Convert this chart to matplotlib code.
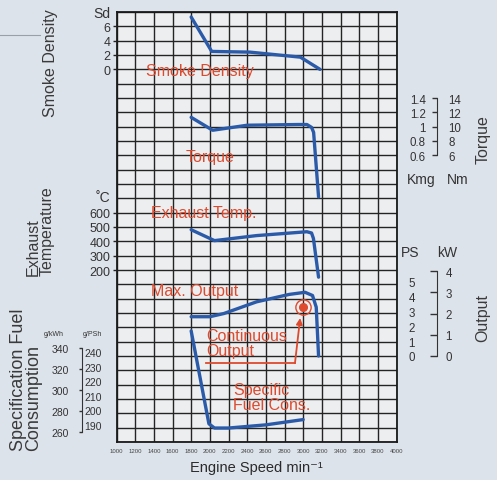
import matplotlib
matplotlib.use("Agg")
import matplotlib.pyplot as plt

plt.rcParams['font.family'] = ['Liberation Sans', 'DejaVu Sans']

# ---------------- data ----------------
rpm_ticks = list(range(1000, 4001, 200))

smoke_rpm = [1800, 2020, 2430, 2970, 3180]
smoke_sd = [7.3, 2.5, 2.4, 1.7, 0.0]

torque_rpm = [1800, 2030, 2400, 2950, 3040, 3090, 3112, 3165]
torque_kgm = [1.13, 0.95, 1.02, 1.03, 1.03, 0.99, 0.92, 0.02]

exh_rpm = [1800, 2050, 2500, 3040, 3090, 3110, 3165]
exh_temp = [481, 405, 440, 467, 458, 420, 150]

out_rpm = [1800, 2000, 2150, 2500, 2850, 3020, 3100, 3140, 3165]
out_kw = [1.85, 1.85, 2.0, 2.55, 2.9, 3.0, 2.85, 2.3, 0.0]

fuel_rpm = [1800, 1990, 2050, 2200, 2600, 3000]
fuel_gkwh = [356, 268, 264, 264, 267, 272]

cont_rpm, cont_kw = 3000, 2.3

smoke_ticks = [0, 2, 4, 6]
exh_ticks = [200, 300, 400, 500, 600]
torque_kgm_ticks = [0.6, 0.8, 1.0, 1.2, 1.4]
torque_kgm_labels = ['0.6', '0.8', '1', '1.2', '1.4']
torque_nm_labels = ['6', '8', '10', '12', '14']
kw_ticks = [0, 1, 2, 3, 4]
ps_ticks = [0, 1, 2, 3, 4, 5]
fuel_kwh_ticks = [260, 280, 300, 320, 340]
fuel_psh_ticks = [190, 200, 210, 220, 230, 240]

# ---------------- layout ----------------
W, H = 497, 481
BG = '#dde3eb'
GRID_BG = '#eceef0'
BLUE = '#2b5ba8'
RED = '#dd4a2e'
DARK = '#333333'
ROWS = 30

fig = plt.figure(figsize=(W / 100, H / 100), dpi=100, facecolor=BG)

def fx(x):
    return x / W

def fy(y):
    return 1 - y / H

GL, GR, GT, GB = 116.5, 396.5, 13.0, 443.0
rect = [fx(GL), fy(GB), (GR - GL) / W, (GB - GT) / H]

main = fig.add_axes(rect)
main.set_facecolor(GRID_BG)
main.set_xlim(1000, 4000)
main.set_ylim(ROWS, 0)
main.set_xticks(rpm_ticks)
main.set_xticklabels([str(t) for t in rpm_ticks])
main.set_yticks(range(ROWS + 1))
main.grid(True, color='#242424', lw=1.0)
main.tick_params(axis='x', length=0, labelsize=4.3, pad=4, colors='#444444')
main.tick_params(axis='y', length=0, labelleft=False)
for s in main.spines.values():
    s.set_color('#1a1a1a')
    s.set_linewidth(1.3)
main.set_axisbelow(True)


def row_ylim(value, row, per_row):
    """y-limits so that `value` falls on grid row `row` (counted from top)."""
    return value - (ROWS - row) * per_row, value + row * per_row


def overlay(ylim):
    a = fig.add_axes(rect, sharex=main)
    a.patch.set_visible(False)
    for s in a.spines.values():
        s.set_visible(False)
    a.set_ylim(*ylim)
    a.xaxis.set_visible(False)
    a.tick_params(axis='y', which='both', left=False, right=False,
                  labelleft=False, labelright=False, colors=DARK)
    return a

SIDE_R = (437.0 - GL) / (GR - GL)
SIDE_L = (82.0 - GL) / (GR - GL)

# Smoke density
ax_s = overlay(row_ylim(0, 4, 2))
ax_s.set_yticks(smoke_ticks)
ax_s.tick_params(axis='y', left=True, labelleft=True, length=3, width=1,
                 pad=1.5, labelsize=9, color='#222222')
ax_s.plot(smoke_rpm, smoke_sd, color=BLUE, lw=2.4, solid_joinstyle='round',
          solid_capstyle='round')

# Exhaust temperature
ax_e = overlay(row_ylim(600, 14, 100))
ax_e.set_yticks(exh_ticks)
ax_e.tick_params(axis='y', left=True, labelleft=True, length=3, width=1,
                 pad=1.5, labelsize=9, color='#222222')
ax_e.plot(exh_rpm, exh_temp, color=BLUE, lw=2.4, solid_joinstyle='round',
          solid_capstyle='round')

# Torque (kgm left of bracket, Nm right of it)
ax_t = overlay(row_ylim(1.4, 6, 0.2))
ax_t.spines['left'].set_visible(True)
ax_t.spines['left'].set_position(('axes', SIDE_R))
ax_t.spines['left'].set_bounds(0.6, 1.4)
ax_t.spines['left'].set_color('#333333')
ax_t.set_yticks(torque_kgm_ticks)
ax_t.set_yticklabels(torque_kgm_labels)
ax_t.tick_params(axis='y', left=True, labelleft=True, direction='out',
                 length=3.5, width=1, pad=4.5, labelsize=8.3, color='#333333')
ax_t.plot(torque_rpm, torque_kgm, color=BLUE, lw=2.4, solid_joinstyle='round',
          solid_capstyle='round')

ax_tn = overlay(row_ylim(1.4, 6, 0.2))
ax_tn.spines['right'].set_position(('axes', SIDE_R))
ax_tn.set_yticks(torque_kgm_ticks)
ax_tn.set_yticklabels(torque_nm_labels)
ax_tn.tick_params(axis='y', labelright=True, length=0, pad=8, labelsize=8.3)

# Output (PS left, kW right)
ax_o = overlay(row_ylim(0, 24, 0.675))
ax_o.spines['right'].set_visible(True)
ax_o.spines['right'].set_position(('axes', SIDE_R))
ax_o.spines['right'].set_bounds(0, 4)
ax_o.spines['right'].set_color('#333333')
ax_o.set_yticks(kw_ticks)
ax_o.tick_params(axis='y', right=True, labelright=True, direction='in',
                 length=5, width=1, pad=6, labelsize=8.3, color='#333333')
ax_o.plot(out_rpm, out_kw, color=BLUE, lw=2.4, solid_joinstyle='round',
          solid_capstyle='round')

ax_p = overlay(row_ylim(0, 24, 0.968))
ax_p.spines['left'].set_position(('axes', SIDE_R))
ax_p.set_yticks(ps_ticks)
ax_p.tick_params(axis='y', labelleft=True, length=0, pad=16, labelsize=8.3)

# Specific fuel consumption (g/kWh left, g/PSh right)
ax_f = overlay(row_ylim(260, 29.32, 13.58))
ax_f.spines['left'].set_visible(True)
ax_f.spines['left'].set_position(('axes', SIDE_L))
ax_f.spines['left'].set_bounds(260, 340)
ax_f.spines['left'].set_color('#333333')
ax_f.set_yticks(fuel_kwh_ticks)
ax_f.tick_params(axis='y', left=True, labelleft=True, direction='out',
                 length=2.5, width=1, pad=7, labelsize=7.5, color='#333333')
ax_f.plot(fuel_rpm, fuel_gkwh, color=BLUE, lw=2.4, solid_joinstyle='round',
          solid_capstyle='round')

ax_fp = overlay(row_ylim(190, 28.81, 9.82))
ax_fp.spines['right'].set_position(('axes', SIDE_L))
ax_fp.set_yticks(fuel_psh_ticks)
ax_fp.tick_params(axis='y', labelright=True, length=0, pad=1.5, labelsize=7.5)

# Continuous output marker + arrow
ax_o.plot([cont_rpm], [cont_kw], marker='o', ms=11, mfc='none', mec=RED,
          mew=1.0, ls='none')
ax_o.plot([cont_rpm], [cont_kw], marker='o', ms=5.5, mfc=RED, mec=RED, ls='none')

# ---------------- red curve labels ----------------
lab = dict(color=RED, fontsize=11.5)
main.text(1895, 4.05, 'Smoke Density', ha='center', va='center', **lab)
main.text(2005, 10.05, 'Torque', ha='center', va='center', **lab)
main.text(1940, 14.0, 'Exhaust Temp.', ha='center', va='center', **lab)
main.text(1841, 19.45, 'Max. Output', ha='center', va='center', **lab)
main.text(1960, 23.1, 'Continuous\nOutput', ha='left', va='center',
          linespacing=0.95, **lab)
main.text(2252, 26.85, 'Specific\nFuel Cons.', ha='left', va='center',
          linespacing=0.95, **lab)
main.plot([1960, 2912], [24.5, 24.5], color=RED, lw=1.3)
main.annotate('', xy=(2968, 21.35), xytext=(2912, 24.5),
              arrowprops=dict(arrowstyle='-|>', color=RED, lw=1.3,
                              mutation_scale=9, shrinkA=0, shrinkB=0))

# ---------------- axis titles & units ----------------
tt = dict(color='#3a3a3a', fontsize=11.5)
fig.text(fx(50), fy(117), 'Smoke Density', rotation=90, ha='center',
         va='bottom', **tt)
fig.text(fx(40), fy(276), 'Exhaust\nTemperature', rotation=90, ha='center',
         va='bottom', multialignment='left', linespacing=0.9, **tt)
fig.text(fx(26), fy(451), 'Specification Fuel\nConsumption', rotation=90,
         ha='center', va='bottom', multialignment='left', linespacing=0.85,
         color='#3a3a3a', fontsize=13)
fig.text(fx(483), fy(140), 'Torque', rotation=90, ha='center', va='center', **tt)
fig.text(fx(483), fy(318), 'Output', rotation=90, ha='center', va='center', **tt)

fig.text(fx(110), fy(14), 'Sd', ha='right', va='center', fontsize=10, color=DARK)
fig.text(fx(110), fy(198), '˚C', ha='right', va='center', fontsize=10, color=DARK)
fig.text(fx(421), fy(180), 'Kmg', ha='center', va='center', fontsize=10, color=DARK)
fig.text(fx(458), fy(180), 'Nm', ha='center', va='center', fontsize=10, color=DARK)
fig.text(fx(410), fy(253), 'PS', ha='center', va='center', fontsize=10, color=DARK)
fig.text(fx(447), fy(253), 'kW', ha='center', va='center', fontsize=10, color=DARK)
fig.text(fx(54), fy(335), 'g/kWh', ha='center', va='center', fontsize=5, color=DARK)
fig.text(fx(92), fy(335), 'g/PSh', ha='center', va='center', fontsize=5, color=DARK)

fig.text(fx(256), fy(468), 'Engine Speed min⁻¹', ha='center', va='center',
         fontsize=10.5, color='#2a2a2a')

# decorative rule at top-left
fig.add_artist(plt.Line2D([0, fx(40)], [fy(36), fy(36)], color='#9aa0a8', lw=0.8))

fig.savefig('out.png', dpi=100, facecolor=BG)
